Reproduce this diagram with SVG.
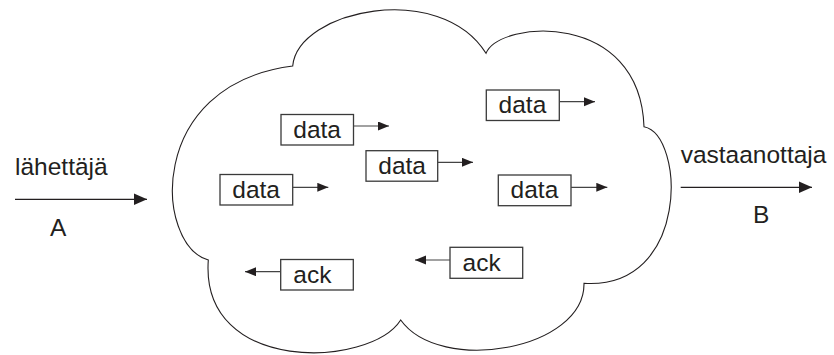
<svg xmlns="http://www.w3.org/2000/svg" width="834" height="355" viewBox="0 0 834 355">
  <style>
    .lbl { font-family: "Liberation Sans", Arial, sans-serif; font-size: 24.5px; fill: #231f20; }
    .box { fill: #fff; stroke: #3a3a3a; stroke-width: 1.3; }
    .flow { stroke: #444; stroke-width: 1.2; fill: none; marker-end: url(#headSmall); }
    .link { stroke: #231f20; stroke-width: 1.3; fill: none; marker-end: url(#headLarge); }
    .cloud { fill: #fff; stroke: #231f20; stroke-width: 1.1; }
  </style>
  <defs>
    <marker id="headSmall" markerUnits="userSpaceOnUse" markerWidth="13" markerHeight="11" refX="11" refY="4.5" orient="auto">
      <path d="M0,0 L11,4.5 L0,9 Z" fill="#231f20"/>
    </marker>
    <marker id="headLarge" markerUnits="userSpaceOnUse" markerWidth="15" markerHeight="14" refX="13.5" refY="6" orient="auto">
      <path d="M0,0 L13.5,6 L0,12 Z" fill="#231f20"/>
    </marker>
  </defs>

  <rect width="834" height="355" fill="#fff"/>

  <!-- network cloud -->
  <path class="cloud" d="M292.7,66 C298,10 440,-20 486,53.3 C500,20 640,10 644,126.7 C685,135 690,290 584,283.3 C585,350 440,375 400.7,320 C370,368 200,375 208.3,260 C155,245 145,85 292.7,66 Z"/>

  <!-- sender -->
  <g id="sender">
    <text class="lbl" x="15" y="175">lähettäjä</text>
    <text class="lbl" x="50" y="236">A</text>
  </g>

  <!-- receiver -->
  <g id="receiver">
    <text class="lbl" x="680.7" y="163">vastaanottaja</text>
    <text class="lbl" x="753" y="223.3">B</text>
  </g>

  <!-- packets -->
  <g id="data1">
    <rect class="box" x="281" y="114.5" width="72.5" height="30.5"/>
    <text class="lbl" x="293.3" y="137.5">data</text>
  </g>
  <g id="data2">
    <rect class="box" x="366" y="150.7" width="71.7" height="30.5"/>
    <text class="lbl" x="378.3" y="173.7">data</text>
  </g>
  <g id="data3">
    <rect class="box" x="220" y="174.5" width="72.7" height="30.5"/>
    <text class="lbl" x="232.3" y="197.5">data</text>
  </g>
  <g id="data4">
    <rect class="box" x="486.3" y="90" width="73" height="30.5"/>
    <text class="lbl" x="498.6" y="113">data</text>
  </g>
  <g id="data5">
    <rect class="box" x="498.3" y="175" width="72.7" height="30.7"/>
    <text class="lbl" x="510.6" y="198">data</text>
  </g>
  <g id="ack1">
    <rect class="box" x="280.7" y="259.5" width="72.6" height="30.5"/>
    <text class="lbl" x="293.3" y="283.3">ack</text>
  </g>
  <g id="ack2">
    <rect class="box" x="450" y="247.3" width="72.7" height="31"/>
    <text class="lbl" x="462.6" y="270.8">ack</text>
  </g>

  <!-- connectors -->
  <g id="connectors">
    <line class="link" x1="15" y1="199.3" x2="147" y2="199.3"/>
    <line class="link" x1="680.7" y1="187.3" x2="812" y2="187.3"/>
    <line class="flow" x1="353.5" y1="126" x2="389" y2="126"/>
    <line class="flow" x1="437.7" y1="162.3" x2="473" y2="162.3"/>
    <line class="flow" x1="292.7" y1="187.3" x2="328.3" y2="187.3"/>
    <line class="flow" x1="559.3" y1="101.7" x2="595" y2="101.7"/>
    <line class="flow" x1="571" y1="187.3" x2="607.3" y2="187.3"/>
    <line class="flow" x1="280.7" y1="271.7" x2="245" y2="271.7"/>
    <line class="flow" x1="450" y1="260" x2="415" y2="260"/>
  </g>
</svg>
